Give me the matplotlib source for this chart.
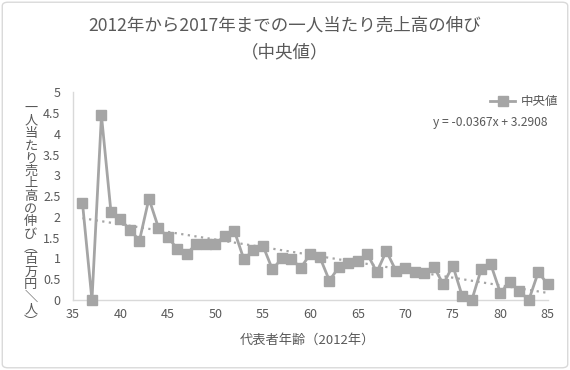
import numpy as np
import matplotlib.pyplot as plt
from matplotlib.patches import FancyBboxPatch

plt.rcParams['font.family'] = ['Noto Sans CJK JP', 'DejaVu Sans']

# 代表者年齢 (2012年) と一人当たり売上高の伸び (中央値)
ages = list(range(36, 86))
growth = [2.34, 0.00, 4.44, 2.12, 1.94, 1.69, 1.43, 2.44, 1.74, 1.51,
          1.23, 1.11, 1.36, 1.36, 1.36, 1.54, 1.66, 0.98, 1.20, 1.31,
          0.74, 1.00, 0.98, 0.78, 1.11, 1.03, 0.47, 0.79, 0.88, 0.93,
          1.11, 0.67, 1.18, 0.71, 0.77, 0.67, 0.65, 0.80, 0.38, 0.83,
          0.09, 0.00, 0.75, 0.86, 0.18, 0.43, 0.22, 0.00, 0.67, 0.38]

# 近似直線 (グラフ上の数式)
slope = -0.0367
intercept = 3.2908

title = '2012年から2017年までの一人当たり売上高の伸び\n（中央値）'
xlabel = '代表者年齢（2012年）'
ylabel = '一人当たり売上高の伸び︵百万円＼人︶'
series_name = '中央値'
eq_text = 'y = -0.0367x + 3.2908'

x_ticks = [35, 40, 45, 50, 55, 60, 65, 70, 75, 80, 85]
y_ticks = [0, 0.5, 1, 1.5, 2, 2.5, 3, 3.5, 4, 4.5, 5]

txt_col = '#595959'
line_col = '#A5A5A5'

fig = plt.figure(figsize=(5.7, 3.7), dpi=100)
ax = fig.add_axes([0.128, 0.189, 0.833, 0.562])

# 外枠
fig.patches.append(FancyBboxPatch((0.004, 0.006), 0.992, 0.988, boxstyle='round,pad=0,rounding_size=0.01',
                                  transform=fig.transFigure, fill=False, ec='#D9D9D9', lw=1))

ax.plot(ages, growth, color=line_col, lw=2, marker='s', markersize=6.5,
        markerfacecolor=line_col, markeredgecolor=line_col, label=series_name,
        zorder=3, clip_on=False)

xt = np.array([ages[0], ages[-1]])
ax.plot(xt, slope * xt + intercept, color=line_col, lw=1.6, linestyle=(0, (1, 2)), zorder=2)

ax.set_xlim(35, 85)
ax.set_ylim(0, 5)
ax.set_xticks(x_ticks)
ax.set_yticks(y_ticks)
ax.set_yticklabels([f'{v:g}' for v in y_ticks])
ax.tick_params(length=0, labelsize=9, colors=txt_col)
ax.tick_params(axis='y', pad=9)
ax.tick_params(axis='x', pad=6)
for s in ['top', 'right']:
    ax.spines[s].set_visible(False)
for s in ['left', 'bottom']:
    ax.spines[s].set_color('#D9D9D9')
    ax.spines[s].set_linewidth(1)

fig.text(0.5, 0.955, title, ha='center', va='top', fontsize=12.6, color=txt_col, linespacing=1.65)
fig.text(0.539, 0.08, xlabel, ha='center', va='center', fontsize=9.5, color=txt_col)
fig.text(0.054, 0.418, '\n'.join(ylabel), ha='center', va='center', fontsize=9.5,
         color=txt_col, linespacing=0.96)

leg = ax.legend(loc='upper right', bbox_to_anchor=(1.045, 1.04), frameon=False, fontsize=9,
                handlelength=2.0, handletextpad=0.4, labelcolor=txt_col)
ax.text(1.0, 0.855, eq_text, transform=ax.transAxes, ha='right', va='center',
        fontsize=8.7, color=txt_col)

fig.savefig('out.png', dpi=100)
